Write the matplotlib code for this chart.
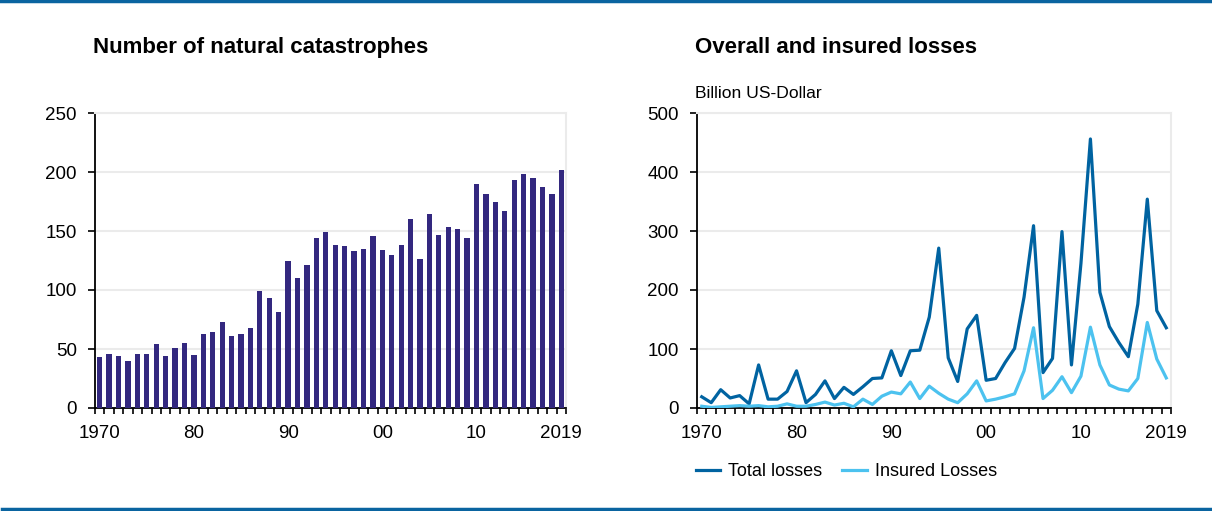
import matplotlib
matplotlib.use("Agg")
import matplotlib.pyplot as plt
from matplotlib.lines import Line2D
import numpy as np

plt.rcParams['font.family'] = ['Liberation Sans', 'DejaVu Sans']

years = list(range(1970, 2020))
catastrophes = [43, 46, 44, 40, 46, 46, 54, 44, 51, 55,
                45, 63, 64, 73, 61, 63, 68, 99, 93, 81,
                125, 110, 121, 144, 149, 138, 137, 133, 135, 146,
                134, 130, 138, 160, 126, 164, 147, 153, 152, 144,
                190, 181, 175, 167, 193, 198, 195, 187, 181, 202]
total_losses = [19, 9, 31, 17, 21, 7, 73, 15, 15, 28,
                63, 9, 23, 46, 16, 35, 23, 36, 50, 51,
                97, 55, 97, 98, 154, 271, 85, 45, 134, 157,
                47, 50, 77, 101, 188, 309, 60, 84, 299, 73,
                245, 456, 196, 138, 111, 87, 176, 354, 165, 136]
insured_losses = [3, 1, 2, 3, 4, 3, 4, 2, 3, 7,
                  3, 3, 6, 10, 5, 8, 2, 15, 6, 20,
                  27, 24, 44, 16, 37, 25, 15, 9, 24, 46,
                  12, 15, 19, 24, 63, 136, 16, 30, 53, 26,
                  54, 137, 73, 39, 32, 29, 50, 145, 83, 51]
tick_years = [1970, 1980, 1990, 2000, 2010, 2019]
tick_labels = ['1970', '80', '90', '00', '10', '2019']

W, H = 1212, 511
fig = plt.figure(figsize=(W / 100, H / 100), dpi=100)

def fx(px):
    return px / W

def fy(py):
    return 1 - py / H

bottom = fy(408)
height = fy(113) - fy(408)
ax1 = fig.add_axes([fx(95), bottom, fx(566) - fx(95), height])
ax2 = fig.add_axes([fx(697), bottom, fx(1171) - fx(697), height])

bar_color = '#33287f'
total_color = '#0063a1'
insured_color = '#4cc2ef'
grid_color = '#ebebeb'
tick_fs = 13.5

def style(ax, ymax, step):
    ax.set_xlim(1969.5, 2019.5)
    ax.set_ylim(0, ymax)
    ax.set_yticks(np.arange(0, ymax + 1, step))
    ax.set_xticks(tick_years)
    ax.set_xticklabels(tick_labels)
    ax.set_xticks(np.arange(1969.5, 2020, 1), minor=True)
    ax.tick_params(axis='x', which='major', length=0, pad=12.5, labelsize=tick_fs)
    ax.tick_params(axis='x', which='minor', length=4, width=1.2, color='black', direction='out')
    ax.tick_params(axis='y', length=5, width=1.2, pad=8, labelsize=tick_fs, direction='out')
    ax.grid(axis='y', color=grid_color, linewidth=1.5)
    ax.set_axisbelow(True)
    for s in ['top', 'right']:
        ax.spines[s].set_color(grid_color)
        ax.spines[s].set_linewidth(1.5)
    for s in ['left', 'bottom']:
        ax.spines[s].set_color('black')
        ax.spines[s].set_linewidth(1.3)

ax1.bar(years, catastrophes, width=0.56, color=bar_color, zorder=3)
style(ax1, 250, 50)

ax2.plot(years, total_losses, color=total_color, linewidth=2.3, label='Total losses', zorder=3)
ax2.plot(years, insured_losses, color=insured_color, linewidth=2.3, label='Insured Losses', zorder=3)
style(ax2, 500, 100)

fig.text(fx(93), fy(47), 'Number of natural catastrophes', fontsize=16, fontweight='bold', va='center', ha='left')
fig.text(fx(695), fy(47), 'Overall and insured losses', fontsize=16, fontweight='bold', va='center', ha='left')
fig.text(fx(695), fy(93), 'Billion US-Dollar', fontsize=12.6, va='center', ha='left')

leg = fig.legend(handles=ax2.get_lines(), labels=['Total losses', 'Insured Losses'],
                 loc='center left', bbox_to_anchor=(fx(696), fy(471.5)), ncol=2, frameon=False,
                 fontsize=13, handlelength=1.35, handletextpad=0.45, columnspacing=1.1,
                 borderaxespad=0, borderpad=0)

fig.add_artist(Line2D([0, 1], [fy(1.5), fy(1.5)], color='#0a64a0', linewidth=2.5, transform=fig.transFigure))
fig.add_artist(Line2D([fx(2), fx(1210)], [fy(508.5), fy(508.5)], color='#0a64a0', linewidth=2.5, transform=fig.transFigure))

fig.savefig('out.png', dpi=100)
